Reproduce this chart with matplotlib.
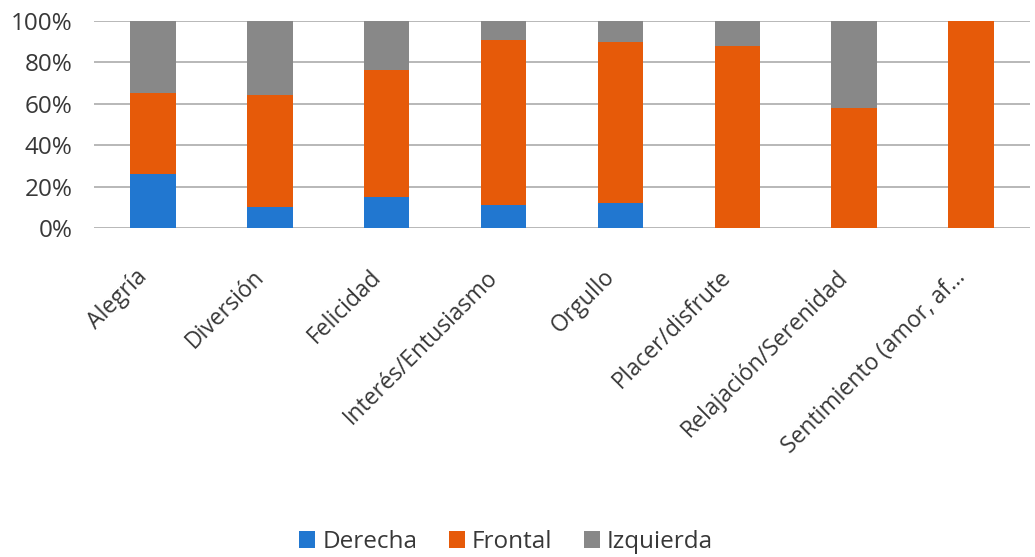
import matplotlib
matplotlib.use("Agg")
import matplotlib.pyplot as plt
from matplotlib.transforms import ScaledTranslation
import numpy as np

categories = ["Alegría", "Diversión", "Felicidad", "Interés/Entusiasmo", "Orgullo",
              "Placer/disfrute", "Relajación/Serenidad", "Sentimiento (amor, af..."]
derecha = [26, 10, 15, 11, 12, 0, 0, 0]
frontal = [39, 54, 61, 79.5, 77.5, 88, 58, 100]
izquierda = [35, 36, 24, 9.5, 10.5, 12, 42, 0]
series_names = ["Derecha", "Frontal", "Izquierda"]
colors = ["#2177d0", "#e65a09", "#888888"]
yticks = [0, 20, 40, 60, 80, 100]

plt.rcParams['font.family'] = ['Open Sans', 'DejaVu Sans']
fig = plt.figure(figsize=(10.35, 5.57), dpi=100)
ax = fig.add_axes([0.0913, 0.5907, 0.9034, 0.3721])

x = np.arange(len(categories))
d = np.array(derecha, float)
f = np.array(frontal, float)
iz = np.array(izquierda, float)
tot = d + f + iz
d, f, iz = d / tot * 100, f / tot * 100, iz / tot * 100
w = 0.39
ax.bar(x, d, w, color=colors[0], label=series_names[0], zorder=3)
ax.bar(x, f, w, bottom=d, color=colors[1], label=series_names[1], zorder=3)
ax.bar(x, iz, w, bottom=d + f, color=colors[2], label=series_names[2], zorder=3)

ax.set_xlim(-0.5, len(categories) - 0.5)
ax.set_ylim(0, 100)
ax.set_yticks(yticks)
ax.set_yticklabels([f"{v}%" for v in yticks])
ax.yaxis.grid(True, color="#ababab", linewidth=1.2, zorder=0)
for s in ax.spines.values():
    s.set_visible(False)
ax.tick_params(axis='both', length=0, labelcolor="#383838")
ax.tick_params(axis='y', pad=16, labelsize=17.5)
ax.set_xticks(x)
ax.set_xticklabels(categories, rotation=45, ha='right', va='center',
                   rotation_mode='anchor', fontsize=16.5)
ax.tick_params(axis='x', pad=33)
for lab in ax.get_xticklabels():
    lab.set_transform(lab.get_transform() + ScaledTranslation(-6.7 / 72, 0, fig.dpi_scale_trans))

fig.legend(loc='center', bbox_to_anchor=(0.489, 0.027), ncol=3, frameon=False,
           fontsize=17.5, handlelength=0.65, handleheight=0.65, handletextpad=0.3,
           columnspacing=1.3, labelcolor="#383838")

fig.savefig("out.png", dpi=100)
